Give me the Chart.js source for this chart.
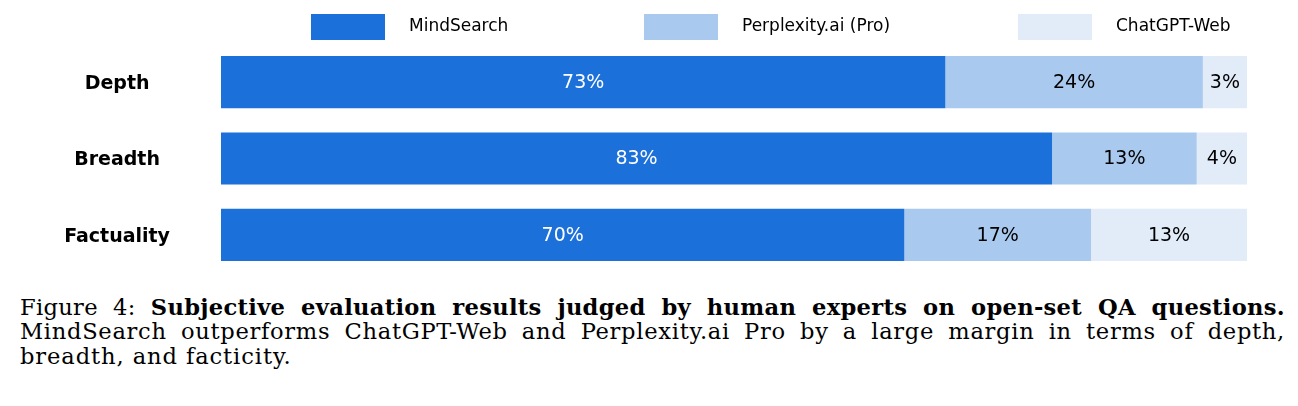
<!DOCTYPE html>
<html>
<head>
<meta charset="utf-8">
<script src="https://cdn.jsdelivr.net/npm/chart.js@4"></script>
<style>
  html, body { margin: 0; padding: 0; background: #fff; }
  body { width: 1298px; height: 406px; position: relative; overflow: hidden; }
  #wrap { position: absolute; left: 0; top: 0; width: 1298px; height: 285px; }
  #caption {
    position: absolute; left: 20px; top: 295px; width: 1265px;
    font-family: "DejaVu Serif", "Liberation Serif", serif;
    font-size: 22.6px; line-height: 24.3px; color: #000;
  }
  #caption .ln { text-align: justify; text-align-last: justify; }
  #caption .l1 { letter-spacing: 0.3px; }
  #caption .l2 { letter-spacing: 0.7px; }
  #caption .l3 { letter-spacing: 0.9px; text-align-last: left; }
</style>
</head>
<body>
<div id="wrap"><canvas id="c"></canvas></div>
<div id="caption">
  <div class="ln l1">Figure 4: <b>Subjective evaluation results judged by human experts on open-set QA questions.</b></div>
  <div class="ln l2">MindSearch outperforms ChatGPT-Web and Perplexity.ai Pro by a large margin in terms of depth,</div>
  <div class="ln l3">breadth, and facticity.</div>
</div>
<script>
// ---- data ----
const categories = ['Depth', 'Breadth', 'Factuality'];
const seriesNames = ['MindSearch', 'Perplexity.ai (Pro)', 'ChatGPT-Web'];
// bar lengths as drawn (percent of full bar)
const mindSearchValues = [70.6, 81.0, 66.6];
const perplexityValues = [25.1, 14.1, 18.2];
const chatgptValues = [4.3, 4.9, 15.2];
// printed labels
const mindSearchLabels = ['73%', '83%', '70%'];
const perplexityLabels = ['24%', '13%', '17%'];
const chatgptLabels = ['3%', '4%', '13%'];
const xTicks = [0, 100];

// ---- styles ----
const colors = ['#1c70da', '#a9c9ef', '#e2ecf9'];
const labelColors = ['#ffffff', '#000000', '#000000'];
const sans = "'DejaVu Sans', sans-serif";

const allLabels = [mindSearchLabels, perplexityLabels, chatgptLabels];
const allValues = [mindSearchValues, perplexityValues, chatgptValues];

const legendBoxX = [311, 644, 1018];

const legendPlugin = {
  id: 'customLegend',
  afterDraw(chart) {
    const ctx = chart.ctx;
    ctx.save();
    ctx.font = '17px ' + sans;
    ctx.textBaseline = 'middle';
    ctx.textAlign = 'left';
    chart.data.datasets.forEach((ds, i) => {
      const bx = legendBoxX[i];
      ctx.fillStyle = ds.backgroundColor;
      ctx.fillRect(bx, 14, 74, 26);
      ctx.fillStyle = '#000';
      ctx.fillText(ds.label, bx + 74 + 24, 27);
    });
    ctx.restore();
  }
};

const barLabelPlugin = {
  id: 'barLabels',
  afterDatasetsDraw(chart) {
    const ctx = chart.ctx;
    ctx.save();
    ctx.font = '19px ' + sans;
    ctx.textAlign = 'center';
    ctx.textBaseline = 'middle';
    chart.data.datasets.forEach((ds, di) => {
      const meta = chart.getDatasetMeta(di);
      meta.data.forEach((bar, i) => {
        ctx.fillStyle = labelColors[di];
        ctx.fillText(allLabels[di][i], (bar.x + bar.base) / 2, bar.y + 1);
      });
    });
    ctx.restore();
  }
};

new Chart(document.getElementById('c'), {
  type: 'bar',
  data: {
    labels: categories,
    datasets: seriesNames.map((name, i) => ({
      label: name,
      data: allValues[i],
      backgroundColor: colors[i],
      borderWidth: 0,
      barPercentage: 0.683,
      categoryPercentage: 1.0
    }))
  },
  options: {
    indexAxis: 'y',
    responsive: true,
    maintainAspectRatio: false,
    animation: false,
    events: [],
    layout: { padding: { left: 14, right: 51, top: 44, bottom: 12 } },
    plugins: { legend: { display: false }, tooltip: { enabled: false } },
    scales: {
      x: {
        stacked: true, min: xTicks[0], max: xTicks[1], display: false
      },
      y: {
        stacked: true,
        grid: { display: false, drawTicks: true, tickLength: 51 },
        border: { display: false },
        afterFit(scale) { scale.width = 207; },
        ticks: {
          color: '#000',
          padding: 0,
          labelOffset: 2,
          crossAlign: 'center',
          font: { family: sans, size: 19, weight: 'bold' }
        }
      }
    }
  },
  plugins: [legendPlugin, barLabelPlugin]
});
</script>
</body>
</html>
